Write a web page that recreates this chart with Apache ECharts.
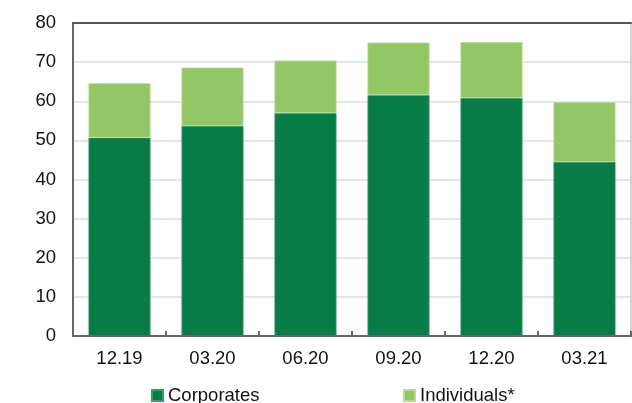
<!DOCTYPE html>
<html>
<head>
<meta charset="utf-8">
<script src="https://cdn.jsdelivr.net/npm/echarts@6/dist/echarts.min.js"></script>
<style>
  html, body { margin: 0; padding: 0; background: #fff; }
  #chart { width: 632px; height: 403px; }
</style>
</head>
<body>
<div id="chart"></div>
<script>
// Quarter-end periods
const periods = ['12.19', '03.20', '06.20', '09.20', '12.20', '03.21'];
// Stacked amounts per period
const corporates = [50.7, 53.7, 57.0, 61.6, 60.9, 44.5];
const individuals = [13.9, 14.9, 13.4, 13.4, 14.2, 15.3];
const seriesNames = ['Corporates', 'Individuals*'];

const FONT = '"Liberation Sans", Arial, sans-serif';
const DARK = '#077c46';
const LIGHT = '#93c665';

const chart = echarts.init(document.getElementById('chart'), null, { renderer: 'canvas' });

const legendText = { fontFamily: FONT, fontSize: 18.5, color: '#111' };

chart.setOption({
  animation: false,
  backgroundColor: '#ffffff',
  grid: { left: 73, top: 23, right: 1, bottom: 67, containLabel: false },
  legend: [
    {
      data: [seriesNames[0]], left: 146, top: 381,
      icon: 'rect', itemWidth: 11, itemHeight: 11, itemGap: 4,
      textStyle: legendText
    },
    {
      data: [seriesNames[1]], left: 398, top: 381,
      icon: 'rect', itemWidth: 11, itemHeight: 11, itemGap: 4,
      textStyle: legendText
    }
  ],
  xAxis: [
    {
      type: 'category',
      data: periods,
      boundaryGap: true,
      axisLine: { show: true, onZero: false, lineStyle: { color: '#666', width: 2 } },
      axisTick: { show: true, inside: true, length: 5, lineStyle: { color: '#666', width: 2 } },
      axisLabel: { fontFamily: FONT, fontSize: 18.5, color: '#111', margin: 13 },
      splitLine: { show: false },
      z: 10
    },
    {
      type: 'category',
      data: periods,
      position: 'top',
      axisLine: { show: true, onZero: false, lineStyle: { color: '#555', width: 2 } },
      axisTick: { show: false },
      axisLabel: { show: false },
      splitLine: { show: false },
      z: 10
    }
  ],
  yAxis: [
    {
      type: 'value',
      min: 0, max: 80, interval: 10,
      axisLine: { show: true, onZero: false, lineStyle: { color: '#666', width: 2 } },
      axisTick: { show: false },
      axisLabel: { fontFamily: FONT, fontSize: 18.5, color: '#111', margin: 17 },
      splitLine: { show: true, showMinLine: false, showMaxLine: false, lineStyle: { color: '#dadede', width: 1.5 } }
    },
    {
      type: 'value',
      min: 0, max: 80, interval: 10,
      position: 'right',
      axisLine: { show: true, onZero: false, lineStyle: { color: '#c4c4c4', width: 1.5 } },
      axisTick: { show: false },
      axisLabel: { show: false },
      splitLine: { show: false }
    }
  ],
  series: [
    {
      name: seriesNames[0], type: 'bar', stack: 'total', data: corporates,
      barWidth: 62,
      itemStyle: { color: DARK, borderColor: '#3f9a6b', borderWidth: 0.8 }
    },
    {
      name: seriesNames[1], type: 'bar', stack: 'total', data: individuals,
      barWidth: 62,
      itemStyle: { color: LIGHT, borderColor: '#b4dc98', borderWidth: 0.8 }
    }
  ]
});
</script>
</body>
</html>
